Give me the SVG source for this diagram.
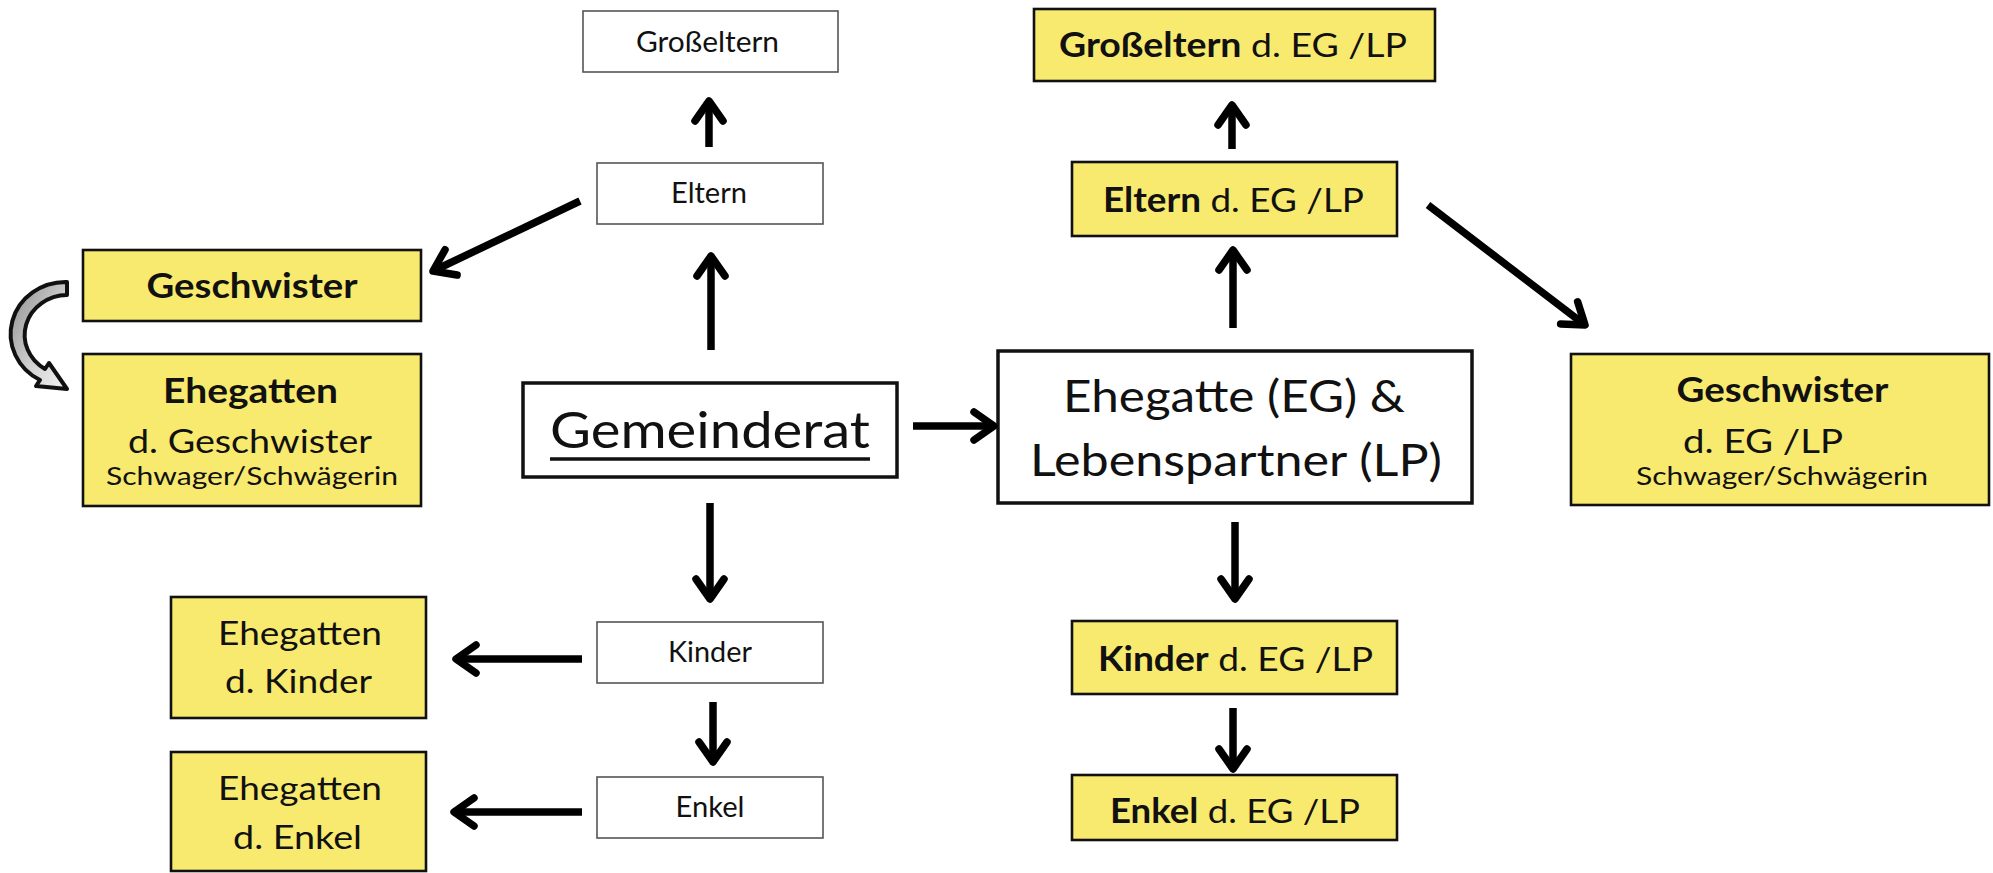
<svg xmlns="http://www.w3.org/2000/svg" width="1993" height="873" viewBox="0 0 1993 873">
<style>
  .plain{fill:#ffffff;stroke:#555555;stroke-width:1.6}
  .yel{fill:#F8EA6E;stroke:#111111;stroke-width:2.6}
  .main{fill:#ffffff;stroke:#111111;stroke-width:3.5}
  text{font-family:Lato,"Open Sans","Liberation Sans",sans-serif;fill:#111111}
  .t28{font-size:29px}
  .t32{font-size:33.5px}
  .t25{font-size:25.5px}
  .b{font-weight:bold}
  .conn line{stroke:#000000;stroke-width:7.5;marker-end:url(#head)}
</style>
<defs>
  <marker id="head" markerUnits="userSpaceOnUse" refX="0" refY="0" markerWidth="40" markerHeight="40" orient="auto" overflow="visible">
    <path d="M -20 -14 L 0 0 L -20 14" fill="none" stroke="#000000" stroke-width="7.5" stroke-linejoin="round" stroke-linecap="round"/>
  </marker>
  <linearGradient id="gray" x1="0" y1="0" x2="1" y2="1">
    <stop offset="0" stop-color="#8c8c8c"/>
    <stop offset="0.6" stop-color="#d4d4d4"/>
    <stop offset="1" stop-color="#f4f4f4"/>
  </linearGradient>
</defs>
<rect width="1993" height="873" fill="#ffffff"/>

<g id="grosseltern">
  <rect class="plain" x="583" y="11" width="255" height="61"/>
  <text class="t28" x="707.5" y="52" text-anchor="middle" textLength="143" lengthAdjust="spacingAndGlyphs">Großeltern</text>
</g>
<g id="eltern">
  <rect class="plain" x="597" y="163" width="226" height="61"/>
  <text class="t28" x="709" y="203" text-anchor="middle" textLength="76" lengthAdjust="spacingAndGlyphs">Eltern</text>
</g>
<g id="kinder">
  <rect class="plain" x="597" y="622" width="226" height="61"/>
  <text class="t28" x="710" y="662" text-anchor="middle" textLength="84" lengthAdjust="spacingAndGlyphs">Kinder</text>
</g>
<g id="enkel">
  <rect class="plain" x="597" y="777" width="226" height="61"/>
  <text class="t28" x="710" y="817" text-anchor="middle" textLength="69" lengthAdjust="spacingAndGlyphs">Enkel</text>
</g>

<g id="gemeinderat">
  <rect class="main" x="523" y="383" width="374" height="94"/>
  <text x="550" y="448" style="font-size:51px" textLength="320" lengthAdjust="spacingAndGlyphs">Gemeinderat</text>
  <line x1="550" y1="459" x2="870" y2="459" stroke="#111111" stroke-width="3.5"/>
</g>
<g id="ehegatte">
  <rect class="main" x="998" y="351" width="474" height="152"/>
  <text x="1234" y="412" style="font-size:44px" text-anchor="middle" textLength="342" lengthAdjust="spacingAndGlyphs">Ehegatte (EG) &amp;</text>
  <text x="1236" y="476" style="font-size:44px" text-anchor="middle" textLength="412" lengthAdjust="spacingAndGlyphs">Lebenspartner (LP)</text>
</g>

<g id="grosseltern-eg">
  <rect class="yel" x="1034" y="9" width="401" height="72"/>
  <text class="t32" x="1059" y="57" textLength="348" lengthAdjust="spacingAndGlyphs"><tspan class="b">Großeltern</tspan> d. EG /LP</text>
</g>
<g id="eltern-eg">
  <rect class="yel" x="1072" y="162" width="325" height="74"/>
  <text class="t32" x="1103" y="212" textLength="261" lengthAdjust="spacingAndGlyphs"><tspan class="b">Eltern</tspan> d. EG /LP</text>
</g>
<g id="kinder-eg">
  <rect class="yel" x="1072" y="621" width="325" height="73"/>
  <text class="t32" x="1098" y="671" textLength="275" lengthAdjust="spacingAndGlyphs"><tspan class="b">Kinder</tspan> d. EG /LP</text>
</g>
<g id="enkel-eg">
  <rect class="yel" x="1072" y="775" width="325" height="65"/>
  <text class="t32" x="1110" y="823" textLength="250" lengthAdjust="spacingAndGlyphs"><tspan class="b">Enkel</tspan> d. EG /LP</text>
</g>
<g id="geschwister-eg">
  <rect class="yel" x="1571" y="354" width="418" height="151"/>
  <text class="t32 b" x="1782.5" y="402" text-anchor="middle" textLength="212" lengthAdjust="spacingAndGlyphs">Geschwister</text>
  <text class="t32" x="1763" y="453" text-anchor="middle" textLength="160" lengthAdjust="spacingAndGlyphs">d. EG /LP</text>
  <text class="t25" x="1782" y="485" text-anchor="middle" textLength="292" lengthAdjust="spacingAndGlyphs">Schwager/Schwägerin</text>
</g>

<g id="geschwister">
  <rect class="yel" x="83" y="250" width="338" height="71"/>
  <text class="t32 b" x="252" y="298" text-anchor="middle" textLength="211" lengthAdjust="spacingAndGlyphs">Geschwister</text>
</g>
<g id="ehegatten-geschwister">
  <rect class="yel" x="83" y="354" width="338" height="152"/>
  <text class="t32 b" x="250.5" y="403" text-anchor="middle" textLength="175" lengthAdjust="spacingAndGlyphs">Ehegatten</text>
  <text class="t32" x="250" y="453" text-anchor="middle" textLength="244" lengthAdjust="spacingAndGlyphs">d. Geschwister</text>
  <text class="t25" x="252" y="485" text-anchor="middle" textLength="292" lengthAdjust="spacingAndGlyphs">Schwager/Schwägerin</text>
</g>
<g id="ehegatten-kinder">
  <rect class="yel" x="171" y="597" width="255" height="121"/>
  <text class="t32" x="300" y="645" text-anchor="middle" textLength="164" lengthAdjust="spacingAndGlyphs">Ehegatten</text>
  <text class="t32" x="298.5" y="693" text-anchor="middle" textLength="147" lengthAdjust="spacingAndGlyphs">d. Kinder</text>
</g>
<g id="ehegatten-enkel">
  <rect class="yel" x="171" y="752" width="255" height="119"/>
  <text class="t32" x="300" y="800" text-anchor="middle" textLength="164" lengthAdjust="spacingAndGlyphs">Ehegatten</text>
  <text class="t32" x="297.5" y="849" text-anchor="middle" textLength="129" lengthAdjust="spacingAndGlyphs">d. Enkel</text>
</g>

<g id="connectors" class="conn">
  <line x1="711" y1="350" x2="711" y2="256"/>
  <line x1="709" y1="147" x2="709" y2="101"/>
  <line x1="580" y1="201" x2="433" y2="271"/>
  <line x1="913" y1="426" x2="994" y2="426"/>
  <line x1="710" y1="503" x2="710" y2="599"/>
  <line x1="713" y1="702" x2="713" y2="762"/>
  <line x1="582" y1="659" x2="456" y2="659"/>
  <line x1="582" y1="812" x2="454" y2="812"/>
  <line x1="1233" y1="328" x2="1233" y2="250"/>
  <line x1="1232" y1="149" x2="1232" y2="105"/>
  <line x1="1235" y1="522" x2="1235" y2="599"/>
  <line x1="1233" y1="708" x2="1233" y2="769"/>
  <line x1="1428" y1="205" x2="1585" y2="325"/>
  <path d="M 67 282 A 55 52 0 0 0 40 380 L 36 386 L 67 389 L 49 363 L 45 369 A 43 40 0 0 1 67 295 Z" fill="url(#gray)" stroke="#111111" stroke-width="4" stroke-linejoin="round"/>
</g>
</svg>
